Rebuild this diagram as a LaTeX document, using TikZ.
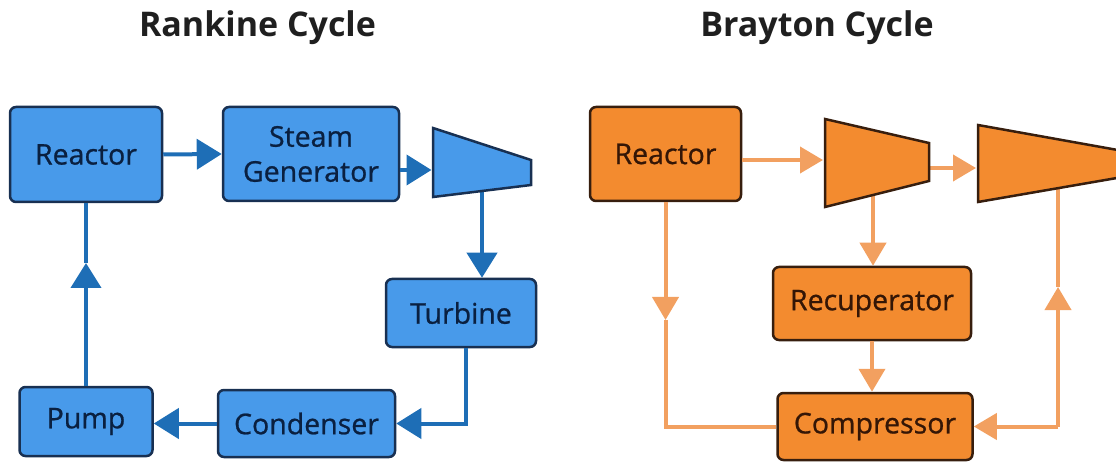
\documentclass[tikz,border=0pt]{standalone}
\usepackage{fontspec}
\setmainfont{Open Sans}
\newfontfamily\boxfont{Open Sans}[FakeBold=0.8]
\usetikzlibrary{arrows.meta}
\definecolor{rkblue}{RGB}{72,154,234}
\definecolor{rkline}{RGB}{30,110,182}
\definecolor{rkedge}{RGB}{24,48,82}
\definecolor{rktext}{RGB}{10,32,64}
\definecolor{btorange}{RGB}{243,139,47}
\definecolor{btline}{RGB}{242,160,96}
\definecolor{btedge}{RGB}{55,30,14}
\definecolor{bttext}{RGB}{52,22,6}

\begin{document}
\begin{tikzpicture}[x=1pt,y=-1pt,
  rbox/.style={draw=rkedge,fill=rkblue,line width=2.5pt,rounded corners=6pt,inner sep=0pt,
    align=center,text=rktext,font=\boxfont\fontsize{28.5}{35}\selectfont},
  bbox/.style={draw=btedge,fill=btorange,line width=2.5pt,rounded corners=6pt,inner sep=0pt,
    align=center,text=bttext,font=\boxfont\fontsize{28.5}{35}\selectfont},
  rturb/.style={draw=rkedge,fill=rkblue,line width=2.5pt,line join=miter},
  bturb/.style={draw=btedge,fill=btorange,line width=2.5pt,line join=miter},
  rflow/.style={draw=rkline,line width=4pt},
  rarrow/.style={rflow,-{Triangle[length=25pt,width=30pt]}},
  bflow/.style={draw=btline,line width=4pt},
  barrow/.style={bflow,-{Triangle[length=23pt,width=26pt]}},
  heading/.style={anchor=base,font=\fontsize{34}{40}\selectfont\bfseries,text=black!88},
]
  \useasboundingbox (0,0) rectangle (1116,462);

  % titles
  \node[heading] (rtitle) at (257.5,37) {Rankine Cycle};
  \node[heading] (btitle) at (817,37) {Brayton Cycle};

  % Rankine boxes
  \node[rbox,minimum width=152pt,minimum height=95pt] (rreactor) at (86,154.5) {Reactor};
  \node[rbox,minimum width=176pt,minimum height=94pt] (steamgen) at (311,154) {Steam\\Generator};
  \node[rbox,minimum width=150pt,minimum height=68pt] (turbine) at (461,313) {Turbine};
  \node[rbox,minimum width=177pt,minimum height=67pt] (condenser) at (306.5,423.5) {Condenser};
  \node[rbox,minimum width=133pt,minimum height=69pt] (pump) at (86,421.5) {Pump};

  \coordinate (rtin) at (431.5,170);
  \coordinate (rtout) at (482,186);
  \coordinate (rup) at (86,263);

  \draw[rarrow] (rreactor.east) -- (steamgen.west);
  \draw[rarrow] (steamgen.east |- rtin) -- (rtin);
  \draw[rarrow] (rtout) -- (rtout |- turbine.north);
  \draw[rarrow] ([xshift=5pt]turbine.south) |- (condenser.east);
  \draw[rarrow] (condenser.west) -- (pump.east |- condenser.west);
  \draw[rarrow] (pump.north) -- (rup);
  \draw[rflow] (rup) -- (rreactor.south);

  \draw[rturb] (433,128) -- (531,160) -- (531,185) -- (433,197) -- cycle;

  % Brayton boxes
  \node[bbox,minimum width=151pt,minimum height=94pt] (breactor) at (665.5,154) {Reactor};
  \node[bbox,minimum width=198pt,minimum height=73pt] (recup) at (872,303.5) {Recuperator};
  \node[bbox,minimum width=195pt,minimum height=67pt] (compressor) at (875,426.5) {Compressor};

  \coordinate (btin) at (823,160);
  \coordinate (btmid) at (929,168);
  \coordinate (bgin) at (976,168);
  \coordinate (btout) at (873,190);
  \coordinate (bgout) at (1058,186);
  \coordinate (bdown) at (665.5,320);
  \coordinate (bup) at (1058,287);
  \coordinate (bcorner) at (bgout |- compressor.east);

  \draw[barrow] (breactor.east |- btin) -- (btin);
  \draw[barrow] (btmid) -- (bgin);
  \draw[barrow] (btout) -- (btout |- recup.north);
  \draw[barrow] (recup.south) -- (recup.south |- compressor.north);
  \draw[barrow] (breactor.south) -- (bdown);
  \draw[bflow] (bdown) |- (compressor.west);
  \draw[barrow] (bcorner) -- (bup);
  \draw[bflow] (bup) -- (bgout);
  \draw[barrow] (bcorner) -- (compressor.east);

  \draw[bturb] (825,119) -- (929,143) -- (929,181) -- (825,207) -- cycle;
  \begin{scope}
    \clip (0,0) rectangle (1116,462);
    \draw[bturb] (978,125) -- (1140,154) -- (1140,174) -- (978,202) -- cycle;
  \end{scope}
\end{tikzpicture}
\end{document}
